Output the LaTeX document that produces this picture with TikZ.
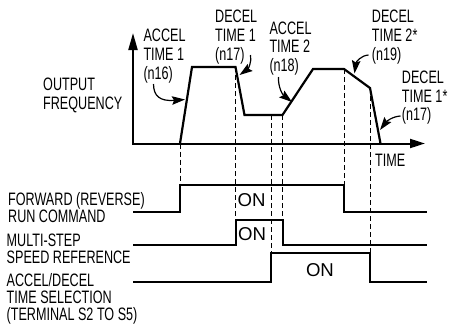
\documentclass[tikz,border=0pt]{standalone}
\usepackage{fontspec}
\newfontfamily\lblfont[FakeStretch=0.70]{Liberation Sans}
\newfontfamily\onfont{Liberation Sans}
\usetikzlibrary{arrows.meta}
\begin{document}
\begin{tikzpicture}[x=1pt,y=-1pt,
 lbl/.style={anchor=base west,inner sep=0pt,font=\lblfont\fontsize{18}{18}\selectfont},
 onlbl/.style={anchor=base west,inner sep=0pt,font=\onfont\fontsize{18.6}{19}\selectfont},
 curve/.style={line width=2.2pt,line join=miter},
 sig/.style={line width=2pt,line join=miter},
 axis/.style={line width=2pt,{Triangle[length=17pt,width=9pt]}-{Triangle[length=15pt,width=9pt]}},
 guide/.style={line width=0.9pt,dash pattern=on 5pt off 3pt},
 note/.style={line width=1.2pt,-{Stealth[length=13pt,width=8.5pt,inset=2pt]}}]
\useasboundingbox (0,0) rectangle (452,324);

% axes
\coordinate (ytip) at (133,33);
\coordinate (o) at (133,143.5);
\coordinate (xtip) at (425,143.5);

% curve points
\coordinate (p0) at (180,143.5);
\coordinate (p1) at (192,67);
\coordinate (p2) at (235.5,67);
\coordinate (p3) at (244.5,115);
\coordinate (p4) at (282.5,115);
\coordinate (p5) at (313,69);
\coordinate (p6) at (344,69);
\coordinate (p7) at (370,88);
\coordinate (p8) at (380.5,143.5);
\coordinate (g271) at (271,115);

% signal points
\coordinate (f0) at (133,212);
\coordinate (f1) at (180,212);
\coordinate (f2) at (180,185);
\coordinate (f3) at (344,185);
\coordinate (f4) at (344,212);
\coordinate (f5) at (427,212);
\coordinate (m0) at (133,245);
\coordinate (m1) at (235.5,245);
\coordinate (m2) at (235.5,220);
\coordinate (m3) at (282.5,220);
\coordinate (m4) at (282.5,245);
\coordinate (m5) at (427,245);
\coordinate (a0) at (133,282);
\coordinate (a1) at (271,282);
\coordinate (a2) at (271,253);
\coordinate (a3) at (370,253);
\coordinate (a4) at (370,282);
\coordinate (a5) at (427,282);

% guides
\draw[guide] (p0) -- (f2);
\draw[guide] (p2) -- (m2);
\draw[guide] (g271) -- (a2);
\draw[guide] (p4) -- (m3);
\draw[guide] (p6) -- (f3);
\draw[guide] (p7) -- (a3);

% axes
\draw[axis] (ytip) -- (o) -- (xtip);

% output frequency
\draw[curve] (p0) -- (p1) -- (p2) -- (p3) -- (p4) -- (p5) -- (p6) -- (p7) -- (p8);

% signals
\draw[sig] (f0) -- (f1) -- (f2) -- (f3) -- (f4) -- (f5);
\draw[sig] (m0) -- (m1) -- (m2) -- (m3) -- (m4) -- (m5);
\draw[sig] (a0) -- (a1) -- (a2) -- (a3) -- (a4) -- (a5);

% left labels
\node[lbl] (out1) at (43,90) {OUTPUT};
\node[lbl] (out2) at (43,109) {FREQUENCY};
\node[lbl] (fw1) at (8,205.7) {FORWARD (REVERSE)};
\node[lbl] (fw2) at (8,222.3) {RUN COMMAND};
\node[lbl] (ms1) at (6.5,246.7) {MULTI-STEP};
\node[lbl] (ms2) at (6.5,263.3) {SPEED REFERENCE};
\node[lbl] (ad1) at (6.5,286) {ACCEL/DECEL};
\node[lbl] (ad2) at (6.5,303.3) {TIME SELECTION};
\node[lbl] (ad3) at (6.5,320.3) {(TERMINAL S2 TO S5)};
\node[lbl] (time) at (375,166.7) {TIME};

% ON labels
\node[onlbl] (on1) at (237.5,206.7) {ON};
\node[onlbl] (on2) at (238,240) {ON};
\node[onlbl] (on3) at (305.8,276) {ON};

% top labels
\node[lbl] (ac1a) at (143.3,41.7) {ACCEL};
\node[lbl] (ac1b) at (143.3,60.5) {TIME 1};
\node[lbl] (ac1c) at (143.3,79) {(n16)};
\node[lbl] (dc1a) at (215,22.7) {DECEL};
\node[lbl] (dc1b) at (215,41.5) {TIME 1};
\node[lbl] (dc1c) at (215,60.3) {(n17)};
\node[lbl] (ac2a) at (269.3,34) {ACCEL};
\node[lbl] (ac2b) at (269.3,52.5) {TIME 2};
\node[lbl] (ac2c) at (269.3,71) {(n18)};
\node[lbl] (dc2a) at (371.7,23) {DECEL};
\node[lbl] (dc2b) at (371.7,41.7) {TIME 2*};
\node[lbl] (dc2c) at (371.7,60.5) {(n19)};
\node[lbl] (dc3a) at (401.7,83.3) {DECEL};
\node[lbl] (dc3b) at (401.7,102) {TIME 1*};
\node[lbl] (dc3c) at (401.7,120.7) {(n17)};

% annotation arrows
\coordinate (s1) at (153.5,84);
\coordinate (t1) at (185,99.5);
\coordinate (s2) at (250.5,55);
\coordinate (t2) at (239.5,75);
\coordinate (s3) at (278.5,77);
\coordinate (t3) at (292,102);
\coordinate (s4) at (368.5,55);
\coordinate (t4) at (354.5,73.5);
\coordinate (s5) at (400.5,116);
\coordinate (t5) at (380,130);
\draw[note] (s1) .. controls (153.5,96) and (160,101.5) .. (t1);
\draw[note] (s2) .. controls (252,62) and (248,69) .. (t2);
\draw[note] (s3) .. controls (278,88) and (283,95) .. (t3);
\draw[note] (s4) .. controls (361,55.5) and (356,62) .. (t4);
\draw[note] (s5) .. controls (392,116.5) and (386,122) .. (t5);
\end{tikzpicture}
\end{document}
